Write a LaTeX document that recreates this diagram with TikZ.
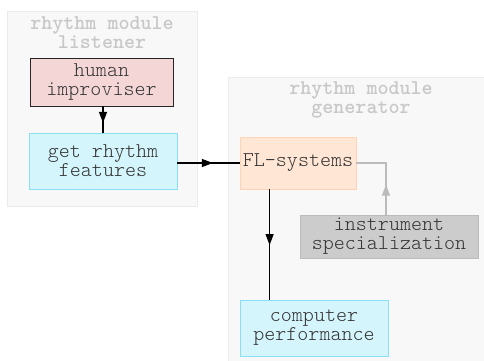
\documentclass[tikz,border=0pt]{standalone}
\usepackage{fontspec}
\setmainfont{Latin Modern Mono Light}
\usetikzlibrary{arrows.meta,decorations.markings}
\definecolor{clfill}{HTML}{F8F8F8}
\definecolor{cldraw}{HTML}{EBEBEB}
\definecolor{cltitle}{HTML}{C8C8C8}
\definecolor{hfill}{HTML}{F4D6D6}
\definecolor{bfill}{HTML}{D5F5FD}
\definecolor{bdraw}{HTML}{8ADFF5}
\definecolor{ofill}{HTML}{FFE6D5}
\definecolor{odraw}{HTML}{FFD3B5}
\definecolor{gfill}{HTML}{CCCCCC}
\definecolor{gdraw}{HTML}{BBBBBB}
\definecolor{txt}{HTML}{333333}
\tikzset{
  cluster/.style={fill=clfill,draw=cldraw,line width=1pt},
  cltext/.style={text=cltitle,font=\fontsize{21}{19}\selectfont\bfseries,align=center,inner sep=0pt},
  box/.style={rectangle,inner sep=0pt,align=center,text=txt,font=\fontsize{21}{19}\selectfont,line width=0.8pt},
  midarrow/.style={postaction={decorate},decoration={markings,mark=at position #1 with {\arrow{Triangle[length=11pt,width=8pt]}}}},
  conn/.style={line width=1.1pt,draw=black}
}
\begin{document}
\begin{tikzpicture}[x=1pt,y=-1pt]
\useasboundingbox (0,0) rectangle (484,360);
\fill[white] (0,0) rectangle (484,360);
% clusters
\draw[cluster] (7,11) rectangle (197,206);
\draw[cluster] (228,77) rectangle (490,370);
\node[cltext] (t1) at (102,33) {rhythm module\\listener};
\node[cltext] (t2) at (361,100) {rhythm module\\generator};
% nodes
\node[box,fill=hfill,draw=black!85,minimum width=143pt,minimum height=48pt] (human) at (101.5,82) {human\\improviser};
\node[box,fill=bfill,draw=bdraw,minimum width=148pt,minimum height=56pt] (get) at (103,161) {get rhythm\\features};
\node[box,fill=ofill,draw=odraw,minimum width=116pt,minimum height=52pt] (fl) at (298,163) {FL-systems};
\node[box,fill=gfill,draw=gdraw,minimum width=178pt,minimum height=43pt] (instr) at (389,236.5) {instrument\\specialization};
\node[box,fill=bfill,draw=bdraw,minimum width=148pt,minimum height=56pt] (comp) at (314,328) {computer\\performance};
% connectors
\draw[conn,midarrow=0.63] (human.south -| get.north) -- (get.north);
\draw[conn,midarrow=0.57] (get.east |- fl.west) -- (fl.west);
\draw[conn,midarrow=0.505] ([xshift=30pt]fl.south west) -- ([xshift=30pt]comp.north west);
\draw[line width=1.1pt,draw=gdraw,midarrow=0.37] ([xshift=-3pt]instr.north) |- (fl.east);
\end{tikzpicture}
\end{document}
